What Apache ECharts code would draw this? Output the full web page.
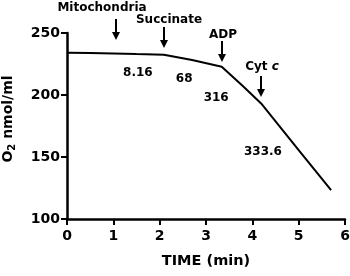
<!DOCTYPE html>
<html>
<head>
<meta charset="utf-8">
<script src="https://cdn.jsdelivr.net/npm/echarts@6/dist/echarts.min.js"></script>
<style>
  html, body { margin: 0; padding: 0; background: #fff; }
  #chart { width: 350px; height: 276px; }
</style>
</head>
<body>
<div id="chart"></div>
<script>
// O2 trace (time in min, O2 in nmol/ml)
const timeMin = [0, 0.5, 1, 1.5, 2.09, 2.7, 3.34, 3.8, 4.19, 5.0, 5.7];
const o2Values = [234, 233.8, 233.5, 233, 232.5, 228.3, 222.8, 207, 193.2, 155.5, 123.2];
const xTicks = [0, 1, 2, 3, 4, 5, 6];
const yTicks = [100, 150, 200, 250];

// arrows: label, time where it points, O2 value at arrow tip
const arrowNames = ['Mitochondria', 'Succinate', 'ADP', 'Cyt c'];
const arrowTimes = [1.06, 2.09, 3.34, 4.19];
const arrowTips = [244, 238, 226.5, 198.5];

// rate labels: text, time, O2 value
const rateTexts = ['8.16', '68', '316', '333.6'];
const rateTimes = [1.53, 2.53, 3.22, 4.23];
const rateO2 = [217.7, 212.8, 197.5, 154];

const FONT = 'DejaVu Sans';
// pixel offsets of arrow labels from arrow top: [dx, dy]
const labelOffsets = [[-14, -12], [5, -8], [1, -7], [1, -10]];

const myChart = echarts.init(document.getElementById('chart'));

const option = {
  animation: false,
  grid: { left: 67, right: 5, top: 33, bottom: 57, outerBoundsMode: 'none', containLabel: false },
  xAxis: {
    type: 'value', min: 0, max: 6, interval: 1,
    name: 'TIME (min)', nameLocation: 'middle', nameGap: 35,
    nameTextStyle: { color: '#000', fontSize: 14.5, fontWeight: 'bold', fontFamily: FONT },
    axisLine: { lineStyle: { color: '#000', width: 2.5 } },
    axisTick: { length: 6, lineStyle: { color: '#000', width: 2 } },
    axisLabel: { color: '#000', fontSize: 14, fontWeight: 'bold', fontFamily: FONT, margin: 10,
      formatter: v => xTicks.includes(v) ? String(v) : '' },
    splitLine: { show: false }
  },
  yAxis: {
    type: 'value', min: 100, max: 250, interval: 50,
    name: 'O{sub|2} nmol/ml', nameLocation: 'middle', nameGap: 50, nameRotate: 90,
    nameTextStyle: { color: '#000', fontSize: 14, fontWeight: 'bold', fontFamily: FONT, padding: [0, 0, 0, 14],
      rich: { sub: { fontSize: 10, fontWeight: 'bold', verticalAlign: 'bottom', padding: [7, 0, 0, 0], fontFamily: FONT } } },
    axisLine: { show: true, lineStyle: { color: '#000', width: 2.5 } },
    axisTick: { show: true, length: 6, lineStyle: { color: '#000', width: 2 } },
    axisLabel: { color: '#000', fontSize: 14, fontWeight: 'bold', fontFamily: FONT, margin: 7,
      formatter: v => yTicks.includes(v) ? String(v) : '' },
    splitLine: { show: false }
  },
  series: [
    {
      type: 'line',
      data: timeMin.map((t, i) => [t, o2Values[i]]),
      showSymbol: false,
      lineStyle: { color: '#000', width: 2 }
    }
  ]
};
myChart.setOption(option);

const graphics = [];
// rate numbers, placed from data coordinates
rateTexts.forEach((s, i) => {
  const p = myChart.convertToPixel({ gridIndex: 0 }, [rateTimes[i], rateO2[i]]);
  graphics.push({ type: 'text', x: p[0], y: p[1],
    style: { text: s, fill: '#000', fontSize: 12, fontWeight: 'bold', fontFamily: FONT,
      align: 'center', verticalAlign: 'middle' } });
});
// arrows with labels placed from data coordinates
arrowNames.forEach((name, i) => {
  const tip = myChart.convertToPixel({ gridIndex: 0 }, [arrowTimes[i], arrowTips[i]]);
  const x = Math.round(tip[0]);
  const y = Math.round(tip[1]);
  graphics.push({ type: 'line', shape: { x1: x, y1: y - 21, x2: x, y2: y - 6 },
    style: { stroke: '#000', lineWidth: 2 } });
  graphics.push({ type: 'polygon', shape: { points: [[x - 4, y - 8], [x + 4, y - 8], [x, y]] },
    style: { fill: '#000' } });
  let rich = {};
  let text = name;
  if (name === 'Cyt c') {
    text = 'Cyt {i|c}';
    rich = { i: { fontStyle: 'italic', fontWeight: 'bold', fontSize: 12, fontFamily: FONT } };
  }
  graphics.push({ type: 'text', x: x + labelOffsets[i][0], y: y - 20 + labelOffsets[i][1],
    style: { text: text, rich: rich, fill: '#000', fontSize: 12, fontWeight: 'bold', fontFamily: FONT,
      align: 'center', verticalAlign: 'middle' } });
});
myChart.setOption({ graphic: graphics });
</script>
</body>
</html>
